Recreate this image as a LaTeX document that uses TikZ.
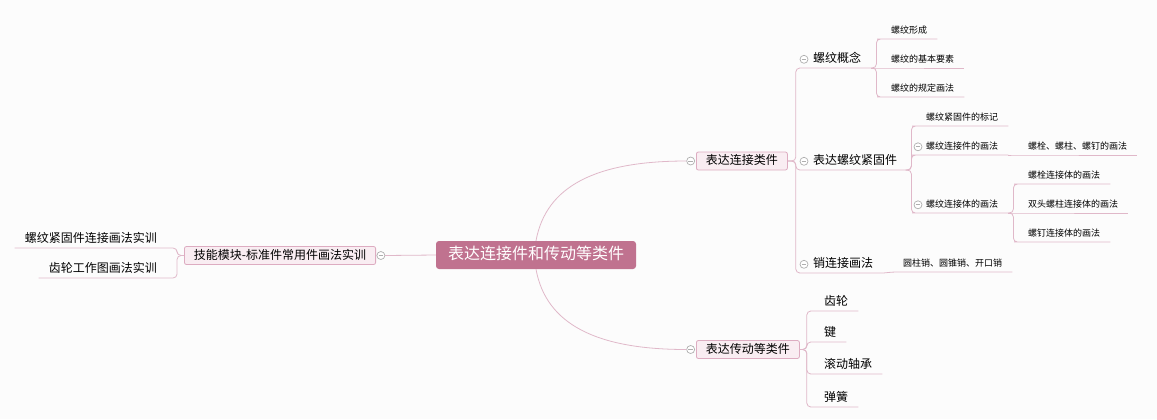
\documentclass[tikz,border=0pt]{standalone}
\usepackage{fontspec}
\setmainfont{Noto Sans CJK SC}
\usepackage{xcolor}
\usepackage{tikz}
\usetikzlibrary{positioning}

\definecolor{bgpaper}{RGB}{252,252,252}
\definecolor{rootpink}{RGB}{192,114,143}
\definecolor{boxfill}{RGB}{249,237,242}
\definecolor{boxline}{RGB}{221,172,193}
\definecolor{linepink}{RGB}{224,184,201}
\definecolor{foldgray}{RGB}{175,175,175}

\begin{document}
\begin{tikzpicture}[
  x=1bp, y=-1bp,
  root/.style={fill=rootpink, rounded corners=3bp, text=white,
    font=\fontsize{16bp}{18bp}\selectfont, minimum width=200bp,
    minimum height=28bp, text height=12bp, text depth=3bp},
  topic/.style={draw=boxline, fill=boxfill, rounded corners=2bp, line width=0.8bp,
    font=\fontsize{12bp}{14bp}\selectfont, inner xsep=9.5bp, inner ysep=3.5bp,
    text height=9bp, text depth=2bp},
  sub/.style={anchor=south west, font=\fontsize{12bp}{14bp}\selectfont,
    inner xsep=10bp, inner ysep=3bp, text height=9bp, text depth=2bp},
  leaf/.style={sub, font=\fontsize{9bp}{11bp}\selectfont, inner ysep=3.5bp,
    text height=7bp},
  fold/.style={circle, draw=foldgray, fill=white, line width=0.7bp, inner sep=0pt,
    minimum size=8bp, path picture={\draw[foldgray, line width=0.7bp]
      ([xshift=-2.3bp]path picture bounding box.center) --
      ([xshift=2.3bp]path picture bounding box.center);}},
  link/.style={draw=linepink, line width=0.8bp, rounded corners=4bp}
]
\path[use as bounding box, fill=bgpaper] (0,0) rectangle (1157,419);

% centre and first level
\node[root] (center) at (536,255) {表达连接件和传动等类件};
\node[topic, anchor=west] (conn) at (696,161) {表达连接类件};
\node[topic, anchor=west] (drive) at (696,349.5) {表达传动等类件};
\node[topic, anchor=east] (skill) at (376,255.5) {技能模块-标准件常用件画法实训};
\node[fold, left=1bp of conn] (connf) {};
\node[fold, left=1bp of drive] (drivef) {};
\node[fold, right=0.5bp of skill] (skillf) {};

% left side
\node[sub, anchor=south east] (lwsx) at (167,248) {螺纹紧固件连接画法实训};
\node[sub, anchor=south east] (clsx) at (167,278) {齿轮工作图画法实训};

% connecting parts
\node[sub] (lwgn) at (803,68) {螺纹概念};
\node[sub] (bdjg) at (803,170) {表达螺纹紧固件};
\node[sub] (xlj) at (803,273) {销连接画法};
\node[fold] (lwgnf) at ([xshift=1bp]lwgn.west) {};
\node[fold] (bdjgf) at ([xshift=1bp]bdjg.west) {};
\node[fold] (xljf) at ([xshift=1bp]xlj.west) {};

\node[leaf] (wx) at (881,39) {螺纹形成};
\node[leaf] (jbys) at (881,68) {螺纹的基本要素};
\node[leaf] (gdhf) at (881,97) {螺纹的规定画法};

\node[leaf] (bj) at (916,126) {螺纹紧固件的标记};
\node[leaf] (ljj) at (916,155) {螺纹连接件的画法};
\node[leaf] (ljt) at (916,213) {螺纹连接体的画法};
\node[fold] (ljjf) at ([xshift=2bp]ljj.west) {};
\node[fold] (ljtf) at ([xshift=2bp]ljt.west) {};

\node[leaf] (lsd) at (1018,155) {螺栓、螺柱、螺钉的画法};
\node[leaf] (lsl) at (1018,184) {螺栓连接体的画法};
\node[leaf] (stl) at (1018,213) {双头螺柱连接体的画法};
\node[leaf] (ldl) at (1018,242) {螺钉连接体的画法};

\node[leaf] (xzl) at (893,272) {圆柱销、圆锥销、开口销};

% transmission parts
\node[sub] (cl) at (814,311) {齿轮};
\node[sub] (jian) at (814,342) {键};
\node[sub] (gdzc) at (814,374) {滚动轴承};
\node[sub] (th) at (814,407) {弹簧};

% connectors
\draw[link] (center.west) -- (skillf.east);
\draw[link] (center.north) .. controls +(10,-55) and +(-90,0) .. (connf.west);
\draw[link] (center.south) .. controls +(10,55) and +(-90,0) .. (drivef.west);

\draw[link] (skill.west) -- ++(-7,0) |- (lwsx.south east) -- (lwsx.south west);
\draw[link] (skill.west) -- ++(-7,0) |- (clsx.south east) -- (clsx.south west);

\draw[link] (conn.east) -- ++(8,0) |- (lwgn.south west) -- (lwgn.south east);
\draw[link] (conn.east) -- ++(8,0) |- (bdjg.south west) -- (bdjg.south east);
\draw[link] (conn.east) -- ++(8,0) |- (xlj.south west) -- (xlj.south east);

\draw[link] (lwgn.south east) -- ++(5,0) |- (wx.south west) -- (wx.south east);
\draw[link] (lwgn.south east) -- (jbys.south west) -- (jbys.south east);
\draw[link] (lwgn.south east) -- ++(5,0) |- (gdhf.south west) -- (gdhf.south east);

\draw[link] (bdjg.south east) -- ++(4,0) |- (bj.south west) -- (bj.south east);
\draw[link] (bdjg.south east) -- ++(4,0) |- (ljj.south west) -- (ljj.south east);
\draw[link] (bdjg.south east) -- ++(4,0) |- (ljt.south west) -- (ljt.south east);

\draw[link] (ljj.south east) -- (lsd.south west) -- (lsd.south east);
\draw[link] (ljt.south east) -- ++(5,0) |- (lsl.south west) -- (lsl.south east);
\draw[link] (ljt.south east) -- (stl.south west) -- (stl.south east);
\draw[link] (ljt.south east) -- ++(5,0) |- (ldl.south west) -- (ldl.south east);

\draw[link] (xlj.south east) -- (xzl.south west) -- (xzl.south east);

\draw[link] (drive.east) -- ++(7,0) |- (cl.south west) -- (cl.south east);
\draw[link] (drive.east) -- ++(7,0) |- (jian.south west) -- (jian.south east);
\draw[link] (drive.east) -- ++(7,0) |- (gdzc.south west) -- (gdzc.south east);
\draw[link] (drive.east) -- ++(7,0) |- (th.south west) -- (th.south east);
\end{tikzpicture}
\end{document}
